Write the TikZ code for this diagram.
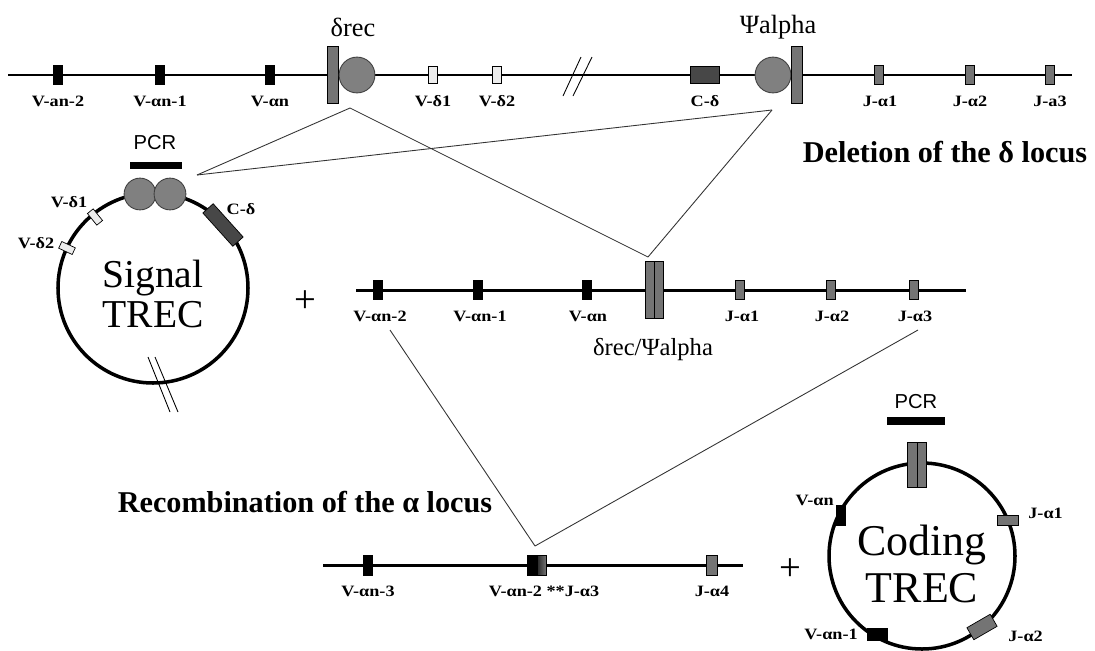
\documentclass[tikz,border=0pt]{standalone}
\usepackage{fontspec}
\setmainfont{Liberation Serif}
\newfontfamily\sansf{Liberation Sans}
\newfontfamily\lblfont{Liberation Serif}[FakeStretch=1.15]
\definecolor{jgray}{HTML}{747474}
\definecolor{ballgray}{HTML}{808080}
\definecolor{cdark}{HTML}{474747}
\definecolor{dwhite}{HTML}{EDEDED}
\begin{document}
\begin{tikzpicture}[x=0.02cm,y=-0.02cm,
  dna/.style={line width=1.7pt},
  ring/.style={line width=2pt},
  link/.style={line width=0.5pt, draw=black!80},
  slash/.style={line width=0.5pt},
  box/.style={rectangle, inner sep=0pt, draw=black, line width=0.4pt},
  vseg/.style={box, fill=black, minimum width=5pt, minimum height=10.8pt},
  jseg/.style={box, fill=jgray, minimum width=5pt, minimum height=10.8pt},
  dseg/.style={box, fill=dwhite, minimum width=5.4pt, minimum height=9.6pt},
  rss/.style={box, fill=jgray, minimum width=6.2pt, minimum height=32.3pt},
  ball/.style={circle, inner sep=0pt, draw=black!75, line width=0.5pt, fill=ballgray, minimum size=20.4pt},
  pcrball/.style={ball, minimum size=18.1pt},
  pcrbar/.style={rectangle, fill=black, inner sep=0pt, minimum width=29.5pt, minimum height=4.5pt},
  lbl/.style={font=\lblfont\fontsize{9}{10}\selectfont\bfseries, inner sep=0pt},
  title/.style={font=\fontsize{17.2}{20}\selectfont\bfseries, inner sep=0pt},
  gene/.style={font=\fontsize{15}{18}\selectfont, inner sep=0pt},
  pcrtxt/.style={font=\sansf\fontsize{11.5}{13}\selectfont, inner sep=0pt},
  plus/.style={font=\fontsize{22}{24}\selectfont, inner sep=0pt}
]
\useasboundingbox (0,0) rectangle (1095,650);

% ---------- germline locus ----------
\coordinate (tl) at (8,75);
\coordinate (tr) at (1072,75);
\draw[dna] (tl) -- (tr);
\draw[slash] (581,57) -- (563,96);
\draw[slash] (592,57) -- (573,96);

\node[vseg] (tv1) at (58,75) {};
\node[vseg] (tv2) at (160,75) {};
\node[vseg] (tv3) at (270,75) {};
\node[rss] (tdbar) at (333,75) {};
\node[ball] (tdrec) at (357,75) {};
\node[dseg] (td1) at (433,75) {};
\node[dseg] (td2) at (497,75) {};
\node[box, fill=cdark, minimum width=16.4pt, minimum height=9.6pt] (tc) at (705,75) {};
\node[ball] (tpsi) at (773,75) {};
\node[rss] (tpbar) at (797,75) {};
\node[jseg, minimum width=4.8pt] (tj1) at (879,75) {};
\node[jseg, minimum width=4.8pt] (tj2) at (970,75) {};
\node[jseg, minimum width=4.8pt] (tj3) at (1050,75) {};

\node[lbl] at (58,101) {V-an-2};
\node[lbl] at (160,101) {V-αn-1};
\node[lbl] at (270,101) {V-αn};
\node[lbl] at (433,101) {V-δ1};
\node[lbl] at (497,101) {V-δ2};
\node[lbl] at (705,101) {C-δ};
\node[lbl] at (880,101) {J-α1};
\node[lbl] at (970,101) {J-α2};
\node[lbl] at (1050,101) {J-a3};

\node[gene] (ndrec) at (353,27) {δrec};
\node[gene] (npsi) at (778,27) {Ψalpha};

\node[title] (del) at (945,152) {Deletion of the δ locus};

% ---------- signal TREC ----------
\coordinate (sc) at (153,288);
\draw[ring] (sc) circle[radius=95];
\draw[slash] (148,357) -- (170,412);
\draw[slash] (155,357) -- (178,412);
\node[pcrball] (sb1) at (140,194) {};
\node[pcrball] (sb2) at (170,194) {};
\node[pcrbar, minimum width=29.5pt] (spcr) at (156,165.5) {};
\node[pcrtxt] at (155,143) {PCR};
\node[box, fill=cdark, minimum width=25.5pt, minimum height=7.9pt, rotate=-48] (sc1) at (223,225) {};
\node[box, fill=dwhite, minimum width=8.5pt, minimum height=4.2pt, rotate=129] (sd1) at (95,217) {};
\node[box, fill=dwhite, minimum width=8.5pt, minimum height=4.2pt, rotate=155] (sd2) at (67,248) {};
\node[lbl] at (69,202) {V-δ1};
\node[lbl] at (36,243) {V-δ2};
\node[lbl] at (241,209) {C-δ};
\node[font=\fontsize{22.5}{23}\selectfont, align=center, inner sep=0pt] (stxt) at (153,294) {Signal\\TREC};

\node[plus] at (305,302) {+};

% ---------- locus after delta deletion ----------
\coordinate (ml) at (356,290);
\coordinate (mr) at (966,290);
\draw[dna] (ml) -- (mr);
\node[vseg] (mv1) at (378,290) {};
\node[vseg] (mv2) at (478,290) {};
\node[vseg] (mv3) at (587,290) {};
\node[box, fill=jgray, minimum width=5.1pt, minimum height=32.3pt] (mbl) at (649.5,290) {};
\node[box, fill=jgray, minimum width=5.1pt, minimum height=32.3pt] (mbr) at (658.5,290) {};
\node[jseg] (mj1) at (740,290) {};
\node[jseg] (mj2) at (831,290) {};
\node[jseg] (mj3) at (914,290) {};
\node[lbl] at (380,316) {V-αn-2};
\node[lbl] at (480,316) {V-αn-1};
\node[lbl] at (588,316) {V-αn};
\node[lbl] at (742,316) {J-α1};
\node[lbl] at (832,316) {J-α2};
\node[lbl] at (915,316) {J-α3};
\node[gene, font=\fontsize{14}{17}\selectfont] at (653,350) {δrec/Ψalpha};

% ---------- rearranged alpha locus ----------
\node[title] (rec) at (305,502) {Recombination of the α locus};
\coordinate (bl) at (323,565);
\coordinate (br) at (743,565);
\draw[dna] (bl) -- (br);
\node[vseg, minimum height=11.3pt] (bv) at (368,565) {};
\node[vseg, minimum width=5.7pt, minimum height=11.3pt] (bvj1) at (532,565) {};
\node[box, left color=black!85, right color=jgray, minimum width=5.1pt, minimum height=11.3pt] (bvj2) at (541.5,565) {};
\node[jseg, minimum width=6pt, minimum height=11.3pt] (bj) at (712,565) {};
\node[lbl] at (368,591) {V-αn-3};
\node[lbl] at (544,591) {V-αn-2 **J-α3};
\node[lbl] at (712,591) {J-α4};

\node[plus] at (790,570) {+};

% ---------- coding TREC ----------
\coordinate (cc) at (922,556);
\draw[ring] (cc) circle[radius=93];
\node[box, fill=jgray, minimum width=5.4pt, minimum height=25.5pt] (cbl) at (912.5,464.5) {};
\node[box, fill=jgray, minimum width=5.4pt, minimum height=25.5pt] (cbr) at (922,464.5) {};
\node[pcrbar, minimum width=33pt, minimum height=5pt] (cpcr) at (916,421) {};
\node[pcrtxt] at (916,402) {PCR};
\node[vseg, minimum width=5.1pt, minimum height=11.3pt] (cv1) at (841,515) {};
\node[jseg, minimum width=11.9pt, minimum height=5.7pt] (cj1) at (1008,520) {};
\node[vseg, minimum width=11.3pt, minimum height=6.8pt] (cv2) at (877,634) {};
\node[box, fill=jgray, minimum width=15.3pt, minimum height=7.9pt, rotate=30] (cj2) at (982,627) {};
\node[lbl, anchor=east] at (834,500) {V-αn};
\node[lbl, anchor=west] at (1028,513) {J-α1};
\node[lbl, anchor=east] at (858,634) {V-αn-1};
\node[lbl, anchor=west] at (1008,636) {J-α2};
\node[font=\fontsize{25}{26.5}\selectfont, align=center, inner sep=0pt] (ctxt) at (922,564) {Coding\\TREC};

% ---------- connectors ----------
\coordinate (drecA) at (350,108);
\coordinate (psiA) at (772,110);
\coordinate (sigA) at (197,175);
\coordinate (midA) at (648,257);
\coordinate (midL) at (390,330);
\coordinate (midR) at (918,330);
\coordinate (botA) at (535,546);
\draw[link] (drecA) -- (sigA);
\draw[link] (drecA) -- (midA);
\draw[link] (psiA) -- (sigA);
\draw[link] (psiA) -- (midA);
\draw[link] (midL) -- (botA);
\draw[link] (midR) -- (botA);
\end{tikzpicture}
\end{document}
